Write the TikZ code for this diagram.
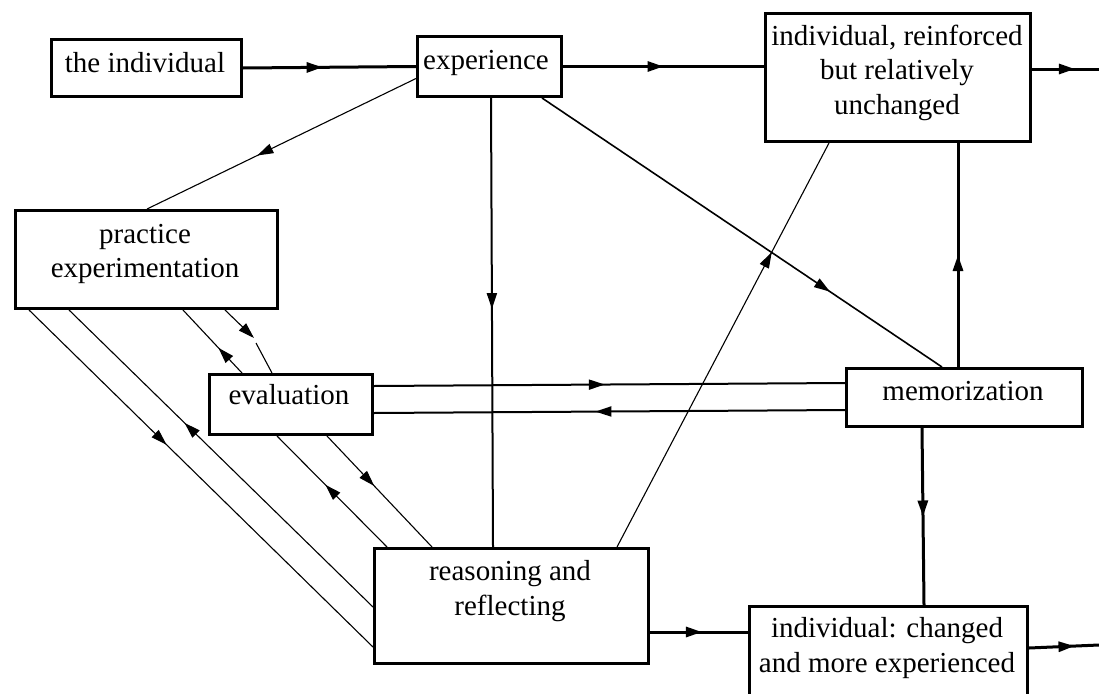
\documentclass[tikz,border=0pt]{standalone}
\usepackage{fontspec}
\setmainfont{Liberation Serif}
\usetikzlibrary{arrows.meta,decorations.markings,calc}
\begin{document}
\begin{tikzpicture}[x=1pt,y=-1pt,
  box/.style={draw,line width=3pt,rectangle,inner sep=0pt,anchor=north west},
  lbl/.style={anchor=base,align=center,inner sep=0pt,font=\fontsize{29}{34.5}\selectfont},
  thickc/.style={line width=3pt},
  medc/.style={line width=2pt},
  thinc/.style={line width=1.1pt},
  midarrow/.style={postaction={decorate,decoration={markings,mark=at position #1 with {\arrow{Triangle[length=16pt,width=10pt]}}}}}
]
\useasboundingbox (0,0) rectangle (1099,693);
% boxes
\node[box,minimum width=190pt,minimum height=57pt] (A) at (50,38) {};
\node[box,minimum width=144pt,minimum height=60pt] (B) at (416,35) {};
\node[box,minimum width=265pt,minimum height=128pt] (C) at (764,12) {};
\node[box,minimum width=262pt,minimum height=98pt] (D) at (14,209) {};
\node[box,minimum width=163pt,minimum height=60pt] (E) at (208,373) {};
\node[box,minimum width=236pt,minimum height=58pt] (F) at (845,367) {};
\node[box,minimum width=274pt,minimum height=115pt] (G) at (373,547) {};
\node[box,minimum width=278pt,minimum height=95pt] (H) at (748,605) {};
% labels (base anchor = baseline of last line)
\node[lbl] (tA) at (145,72.5) {the individual};
\node[lbl] (tB) at (486,70) {experience};
\node[lbl] (tC) at (897,114) {individual, reinforced\\but relatively\\unchanged};
\node[lbl] (tD) at (145,277.5) {practice\\experimentation};
\node[lbl] (tE) at (289,404) {evaluation};
\node[lbl] (tF) at (963,400) {memorization};
\node[lbl] (tG) at (510,615) {reasoning and\\reflecting};
\node[lbl] (tH) at (887,672) {individual: changed\\and more experienced};
% free ends
\coordinate (out1) at (1099,69);
\coordinate (out2) at (1099,645);
\coordinate (k4) at (254,338);
\coordinate (k4b) at (256,343);
% connectors
\draw[thickc,midarrow=0.46] (A.east) -- (B.east -| B.west);
\draw[thickc,midarrow=0.5] (B.east) -- (B.east -| C.west);
\draw[thickc,midarrow=0.64] ($(C.north east)+(0,57)$) -- (out1);
\draw[thinc,midarrow=0.59] ($(B.west)+(0,12)$) -- (147,0 |- D.north);
\draw[medc,midarrow=0.47] (491,0 |- B.south) -- (493,0 |- G.north);
\draw[line width=1.6pt,midarrow=0.72] (542,0 |- B.south) -- (942,0 |- F.north);
\draw[thinc,midarrow=0.73] (617,0 |- G.north) -- (829,0 |- C.south);
\draw[thickc,midarrow=0.5] (958,0 |- F.north) -- (958,0 |- C.south);
\draw[thickc,midarrow=0.5] (922,0 |- F.south) -- (924,0 |- H.north);
\draw[thickc,midarrow=0.53] (G.east |- 0,632) -- (H.west |- 0,632);
\draw[thickc,midarrow=0.65] (H.east |- 0,648) -- (out2);
\draw[medc,midarrow=0.49] (E.east |- 0,386) -- (F.west |- 0,383);
\draw[medc,midarrow=0.53] (F.west |- 0,410) -- (E.east |- 0,413);
\draw[thinc,midarrow=0.4] (29,0 |- D.south) -- (G.west |- 0,647);
\draw[thinc,midarrow=0.62] (G.west |- 0,607) -- (69,0 |- D.south);
\draw[thinc,midarrow=0.4] (242,0 |- E.north) -- (183,0 |- D.south);
\draw[thinc,-{Triangle[length=16pt,width=10pt]}] (225,0 |- D.south) -- (k4);
\draw[thinc] (k4b) -- (272,0 |- E.north);
\draw[thinc,midarrow=0.56] (387,0 |- G.north) -- (277,0 |- E.south);
\draw[thinc,midarrow=0.45] (327,0 |- E.south) -- (432,0 |- G.north);
\end{tikzpicture}
\end{document}
